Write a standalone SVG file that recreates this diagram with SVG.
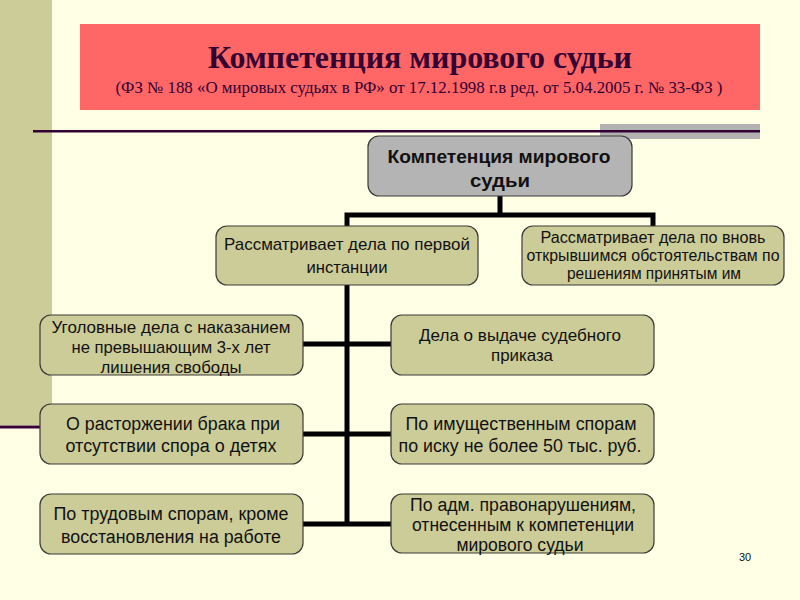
<svg xmlns="http://www.w3.org/2000/svg" width="800" height="600" viewBox="0 0 800 600">
<style>
.n{fill:#CCCC99;stroke:#3a3a3a;stroke-width:1.2}
.g{fill:#B4B4B4;stroke:#3a3a3a;stroke-width:1.2}
.t{font-family:"Liberation Sans",Arial,sans-serif;fill:#111;text-anchor:middle}
.c{stroke:#000;stroke-width:5;fill:none}
</style>
<rect width="800" height="600" fill="#FFFFE5"/>
<rect x="0" y="0" width="52" height="425" fill="#CCCC99"/>
<rect x="0" y="425.5" width="42" height="3" fill="#330033"/>
<rect x="80" y="24" width="680" height="86" fill="#FF6666"/>
<text x="420" y="68" font-family="Liberation Serif,serif" font-weight="bold" font-size="31" fill="#330033" text-anchor="middle" textLength="424" lengthAdjust="spacingAndGlyphs">Компетенция мирового судьи</text>
<text x="419" y="93" font-family="Liberation Serif,serif" font-size="16" fill="#330033" text-anchor="middle" textLength="607" lengthAdjust="spacingAndGlyphs">(ФЗ № 188 «О мировых судьях в РФ» от 17.12.1998 г.в ред. от 5.04.2005 г. № 33-ФЗ )</text>
<rect x="600" y="124" width="160" height="15" fill="#B2B2B2"/>
<rect x="33" y="130" width="727" height="2.5" fill="#330033"/>
<g id="connectors">
<path class="c" d="M500 196V215M347 228V215H653V228"/>
<path class="c" d="M347 285V524"/>
<path class="c" d="M303 344H391M303 434H391M303 524H391"/>
</g>
<g id="root">
<rect class="g" x="368" y="136" width="264" height="60" rx="11"/>
<text class="t" font-size="18.5" font-weight="bold"><tspan x="499" y="163" textLength="223" lengthAdjust="spacingAndGlyphs">Компетенция мирового</tspan><tspan x="500" y="187" textLength="60" lengthAdjust="spacingAndGlyphs">судьи</tspan></text>
</g>
<g id="first-instance">
<rect class="n" x="216" y="226" width="262" height="59" rx="11"/>
<text class="t" font-size="17"><tspan x="347" y="250" textLength="246" lengthAdjust="spacingAndGlyphs">Рассматривает дела по первой</tspan><tspan x="347" y="273" textLength="81" lengthAdjust="spacingAndGlyphs">инстанции</tspan></text>
</g>
<g id="new-circumstances">
<rect class="n" x="522" y="226" width="262" height="59" rx="11"/>
<text class="t" font-size="16"><tspan x="653" y="243" textLength="225" lengthAdjust="spacingAndGlyphs">Рассматривает дела по вновь</tspan><tspan x="653" y="261" textLength="253" lengthAdjust="spacingAndGlyphs">открывшимся обстоятельствам по</tspan><tspan x="654" y="279" textLength="174" lengthAdjust="spacingAndGlyphs">решениям принятым им</tspan></text>
</g>
<g id="criminal">
<rect class="n" x="40" y="315" width="263" height="60" rx="11"/>
<text class="t" font-size="17"><tspan x="171" y="333" textLength="239" lengthAdjust="spacingAndGlyphs">Уголовные дела с наказанием</tspan><tspan x="171" y="353" textLength="199" lengthAdjust="spacingAndGlyphs">не превышающим 3-х лет</tspan><tspan x="171" y="373" textLength="141" lengthAdjust="spacingAndGlyphs">лишения свободы</tspan></text>
</g>
<g id="court-order">
<rect class="n" x="391" y="315" width="263" height="60" rx="11"/>
<text class="t" font-size="17"><tspan x="520" y="341" textLength="202" lengthAdjust="spacingAndGlyphs">Дела о выдаче судебного</tspan><tspan x="522" y="361" textLength="62" lengthAdjust="spacingAndGlyphs">приказа</tspan></text>
</g>
<g id="divorce">
<rect class="n" x="40" y="404" width="263" height="60" rx="11"/>
<text class="t" font-size="18"><tspan x="173" y="430" textLength="214" lengthAdjust="spacingAndGlyphs">О расторжении брака при</tspan><tspan x="171" y="452" textLength="211" lengthAdjust="spacingAndGlyphs">отсутствии спора о детях</tspan></text>
</g>
<g id="property">
<rect class="n" x="391" y="404" width="263" height="60" rx="11"/>
<text class="t" font-size="18"><tspan x="521" y="430" textLength="231" lengthAdjust="spacingAndGlyphs">По имущественным спорам</tspan><tspan x="520" y="452" textLength="243" lengthAdjust="spacingAndGlyphs">по иску не более 50 тыс. руб.</tspan></text>
</g>
<g id="labor">
<rect class="n" x="40" y="494" width="263" height="60" rx="11"/>
<text class="t" font-size="18"><tspan x="171" y="520" textLength="235" lengthAdjust="spacingAndGlyphs">По трудовым спорам, кроме</tspan><tspan x="171" y="543" textLength="220" lengthAdjust="spacingAndGlyphs">восстановления на работе</tspan></text>
</g>
<g id="administrative">
<rect class="n" x="391" y="494" width="263" height="59" rx="11"/>
<text class="t" font-size="18"><tspan x="523" y="511" textLength="226" lengthAdjust="spacingAndGlyphs">По адм. правонарушениям,</tspan><tspan x="523" y="531" textLength="222" lengthAdjust="spacingAndGlyphs">отнесенным к компетенции</tspan><tspan x="520" y="551" textLength="127" lengthAdjust="spacingAndGlyphs">мирового судьи</tspan></text>
</g>
<text x="745" y="561" font-family="Liberation Sans,Arial,sans-serif" font-size="11" fill="#111" text-anchor="middle">30</text>
</svg>
